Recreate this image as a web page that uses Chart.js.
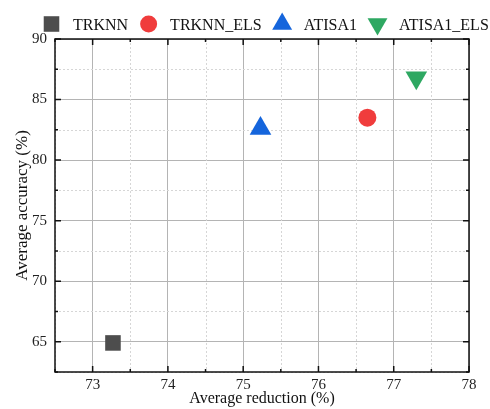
<!DOCTYPE html>
<html>
<head>
<meta charset="utf-8">
<script src="https://cdn.jsdelivr.net/npm/chart.js@4"></script>
<style>
  html, body { margin: 0; padding: 0; background: #fff; }
  #wrap { width: 490px; height: 409px; }
</style>
</head>
<body>
<div id="wrap"><canvas id="grafico"></canvas></div>
<script>
// Datos
const metodos = ['TRKNN', 'TRKNN_ELS', 'ATISA1', 'ATISA1_ELS'];
const reduccion = [73.27, 76.65, 75.23, 77.30];
const precision = [64.9, 83.5, 82.6, 86.8];
const colores = ['#4d4d4d', '#f03c3c', '#1565dc', '#2ea862'];
const formas = ['rect', 'circle', 'triangle', 'triangle'];
const giros = [0, 0, 0, 180];
const radios = [11, 9, 12.5, 12.5];
const radiosLeyenda = [11, 8.5, 11.5, 11.5];

const ticksX = [73, 74, 75, 76, 77, 78];
const ticksY = [65, 70, 75, 80, 85, 90];

const fuente = 'Liberation Serif, Times New Roman, serif';

// Rejilla menor punteada, marcas hacia dentro y marco negro
const marco = {
    id: 'marco',
    beforeDatasetsDraw(chart) {
        const { ctx, chartArea: a, scales: { x, y } } = chart;
        ctx.save();
        ctx.strokeStyle = '#d6d6d6';
        ctx.lineWidth = 1;
        ctx.setLineDash([2, 2]);
        for (let v = 72.5; v <= 78; v += 1) {
            const px = Math.round(x.getPixelForValue(v)) + 0.5;
            ctx.beginPath(); ctx.moveTo(px, a.top); ctx.lineTo(px, a.bottom); ctx.stroke();
        }
        for (let v = 62.5; v <= 90; v += 5) {
            const py = Math.round(y.getPixelForValue(v)) + 0.5;
            ctx.beginPath(); ctx.moveTo(a.left, py); ctx.lineTo(a.right, py); ctx.stroke();
        }
        ctx.setLineDash([]);
        ctx.strokeStyle = '#111';
        ctx.lineWidth = 1.5;
        // marcas mayores y menores (abajo/arriba e izquierda/derecha)
        for (let v = 72.5; v <= 78; v += 0.5) {
            const px = x.getPixelForValue(v);
            const l = Number.isInteger(v) ? 6 : 3;
            ctx.beginPath();
            ctx.moveTo(px, a.bottom); ctx.lineTo(px, a.bottom - l);
            ctx.moveTo(px, a.top); ctx.lineTo(px, a.top + l);
            ctx.stroke();
        }
        for (let v = 62.5; v <= 90; v += 2.5) {
            const py = y.getPixelForValue(v);
            const l = (v % 5 === 0) ? 6 : 3;
            ctx.beginPath();
            ctx.moveTo(a.left, py); ctx.lineTo(a.left + l, py);
            ctx.moveTo(a.right, py); ctx.lineTo(a.right - l, py);
            ctx.stroke();
        }
        ctx.strokeRect(a.left, a.top, a.right - a.left, a.bottom - a.top);
        ctx.restore();
    }
};

// Leyenda en una fila encima del gráfico
const leyenda = {
    id: 'leyenda',
    afterDraw(chart) {
        const ctx = chart.ctx;
        ctx.save();
        ctx.font = '16px ' + fuente;
        ctx.textBaseline = 'alphabetic';
        ctx.textAlign = 'left';
        let cx = 51.5;
        const cy = 24;
        metodos.forEach((m, i) => {
            ctx.fillStyle = colores[i];
            Chart.helpers.drawPoint(ctx, {
                pointStyle: formas[i], rotation: giros[i], radius: radiosLeyenda[i], borderWidth: 0
            }, cx, cy);
            ctx.fillStyle = '#111';
            const tx = cx + 21.5;
            ctx.fillText(m, tx, 30);
            cx = tx + ctx.measureText(m).width + 20.5;
        });
        ctx.restore();
    }
};

new Chart(document.getElementById('grafico'), {
    type: 'scatter',
    data: {
        datasets: metodos.map((m, i) => ({
            label: m,
            data: [{ x: reduccion[i], y: precision[i] }],
            pointStyle: formas[i],
            rotation: giros[i],
            pointRadius: radios[i],
            pointHoverRadius: radios[i],
            backgroundColor: colores[i],
            borderColor: colores[i],
            borderWidth: 0
        }))
    },
    options: {
        responsive: true,
        maintainAspectRatio: false,
        animation: false,
        layout: { padding: { left: 0, right: 21, top: 39, bottom: 0 } },
        plugins: {
            legend: { display: false },
            tooltip: { enabled: false }
        },
        scales: {
            x: {
                type: 'linear',
                min: 72.5,
                max: 78,
                afterBuildTicks: (s) => { s.ticks = ticksX.map(v => ({ value: v })); },
                afterFit: (s) => { s.height = 37; },
                ticks: { color: '#222', padding: 4, font: { family: fuente, size: 15 } },
                grid: { color: '#b4b4b4', drawTicks: false },
                border: { display: false },
                title: {
                    display: true,
                    text: 'Average reduction (%)',
                    color: '#111',
                    padding: { top: 0, bottom: 1 },
                    font: { family: fuente, size: 16 }
                }
            },
            y: {
                type: 'linear',
                min: 62.5,
                max: 90,
                afterBuildTicks: (s) => { s.ticks = ticksY.map(v => ({ value: v })); },
                afterFit: (s) => { s.width = 55; },
                ticks: { color: '#222', padding: 8, font: { family: fuente, size: 15 } },
                grid: { color: '#b4b4b4', drawTicks: false },
                border: { display: false },
                title: {
                    display: true,
                    text: 'Average accuracy (%)',
                    color: '#111',
                    padding: { top: 12, bottom: 0 },
                    font: { family: fuente, size: 17 }
                }
            }
        }
    },
    plugins: [marco, leyenda]
});
</script>
</body>
</html>
